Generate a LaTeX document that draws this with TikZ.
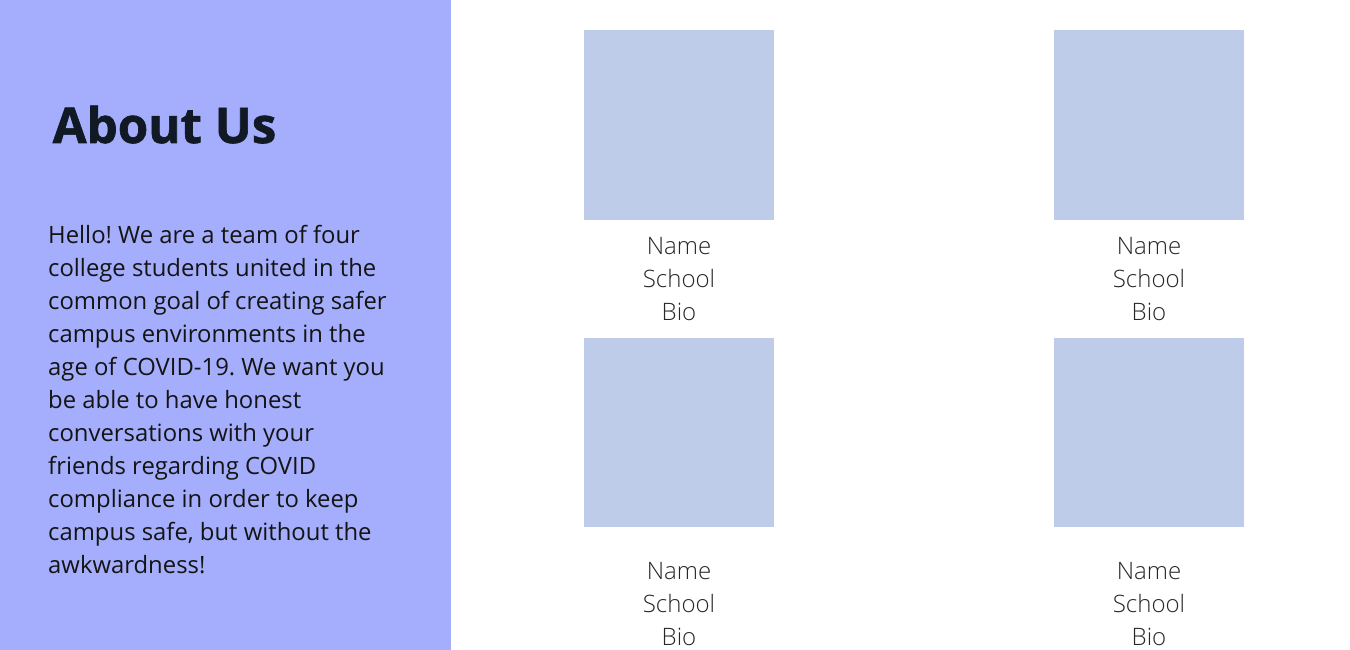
\documentclass[tikz,border=0pt]{standalone}
\usepackage{fontspec}
\setmainfont{Open Sans}
\newfontfamily\lightfont{Open Sans Light}
\newfontfamily\heavyfont[FakeBold=1.3]{Open Sans Bold}
\definecolor{panel}{HTML}{A5AEFC}
\definecolor{photo}{HTML}{BECBE9}
\definecolor{titlec}{HTML}{111A24}
\frenchspacing
\begin{document}
\begin{tikzpicture}[x=1pt,y=-1pt,
  photobox/.style={fill=photo,draw=none},
  bodyline/.style={anchor=base west,inner sep=0pt,font=\frenchspacing\fontsize{23.85}{33}\selectfont,text=black!92},
  namelbl/.style={anchor=base,inner sep=0pt,font=\lightfont\fontsize{24}{33}\selectfont,text=black!85}]
\useasboundingbox (0,0) rectangle (1350,650);
\fill[panel] (0,0) rectangle (451,650);
\node[anchor=base west,inner sep=0pt,text=titlec,font=\heavyfont\fontsize{49.2}{60}\selectfont] (title) at (52.5,143) {About Us};
\foreach \t [count=\i] in {Hello! We are a team of four,college students united in the,common goal of creating safer,campus environments in the,age of COVID-19. We want you,be able to have honest,conversations with your,friends regarding COVID,compliance in order to keep,{campus safe, but without the},awkwardness!}
  \node[bodyline] (l\i) at (48,{243+33*(\i-1)}) {\t};
\foreach \x/\n in {584/a,1054/b}{
  \fill[photobox] (\x,30) rectangle ++(190,189.5) coordinate (p1\n);
  \fill[photobox] (\x,337.5) rectangle ++(190,189.5) coordinate (p2\n);
  \node[namelbl] (n1\n) at (\x+95,254) {Name};
  \node[namelbl] (s1\n) at (\x+95,287) {School};
  \node[namelbl] (b1\n) at (\x+95,320) {Bio};
  \node[namelbl] (n2\n) at (\x+95,579) {Name};
  \node[namelbl] (s2\n) at (\x+95,612) {School};
  \node[namelbl] (b2\n) at (\x+95,645) {Bio};
}
\end{tikzpicture}
\end{document}
